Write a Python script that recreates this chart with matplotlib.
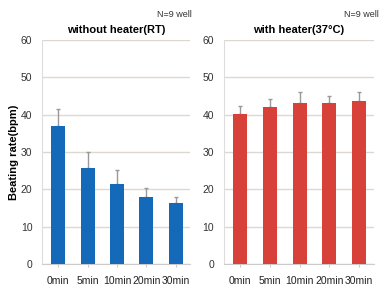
import matplotlib
matplotlib.use("Agg")
import matplotlib.pyplot as plt
import numpy as np

plt.rcParams["font.family"] = ["Liberation Sans", "DejaVu Sans"]

categories = ["0min", "5min", "10min", "20min", "30min"]
rt_values = [37.0, 25.8, 21.4, 17.9, 16.4]
rt_err = [4.5, 4.2, 3.8, 2.3, 1.5]
heat_values = [40.1, 41.9, 43.1, 43.2, 43.6]
heat_err = [2.1, 2.3, 2.9, 1.9, 2.5]
yticks = [0, 10, 20, 30, 40, 50, 60]

fig = plt.figure(figsize=(3.8, 2.85), dpi=100)
fig.patch.set_facecolor("white")

def panel(rect, vals, errs, color, title):
    ax = fig.add_axes(rect)
    x = np.arange(len(categories))
    ax.bar(x, vals, width=0.47, color=color, zorder=3)
    ax.errorbar(x, vals, yerr=[np.zeros(len(errs)), errs], fmt="none",
                ecolor="#999999", elinewidth=1.0, capsize=1.5, capthick=1.0, zorder=2)
    ax.set_xlim(-0.55, 4.5)
    ax.set_ylim(0, 60)
    ax.set_yticks(yticks)
    ax.set_xticks(x)
    ax.set_xticklabels(categories)
    ax.grid(axis="y", color="#ddd8d2", linewidth=1.0, zorder=0)
    for s in ["top", "right"]:
        ax.spines[s].set_visible(False)
    ax.spines["left"].set_color("#dddddd")
    ax.spines["bottom"].set_color("#cccccc")
    ax.tick_params(axis="y", length=0, labelsize=7.5, colors="#333333", pad=7)
    ax.tick_params(axis="x", length=2, color="#cccccc", labelsize=7.5, colors="#222222", pad=7)
    ax.set_title(title, fontsize=8, fontweight="bold", pad=5)
    return ax

ax1 = panel([0.111, 0.074, 0.39, 0.786], rt_values, rt_err, "#1469b8", "without heater(RT)")
ax2 = panel([0.589, 0.074, 0.395, 0.786], heat_values, heat_err, "#d8413a", "with heater(37°C)")
ax1.set_ylabel("Beating rate(bpm)", fontsize=8, fontweight="bold", labelpad=1)

fig.text(0.505, 0.95, "N=9 well", fontsize=6.5, ha="right", va="center", color="#333333")
fig.text(0.998, 0.95, "N=9 well", fontsize=6.5, ha="right", va="center", color="#333333")

fig.savefig("out.png", dpi=100)
